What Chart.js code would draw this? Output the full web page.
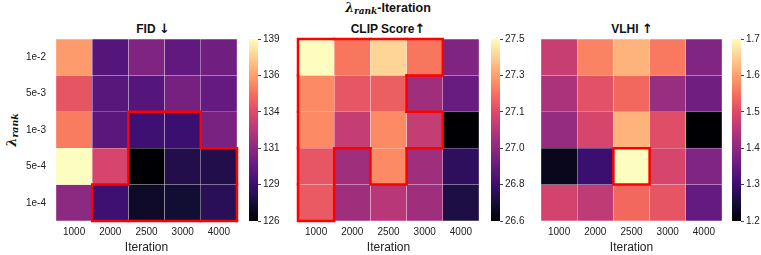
<!DOCTYPE html>
<html>
<head>
    <meta charset="UTF-8">
    <title>lambda rank - Iteration</title>
    <script src="https://cdn.jsdelivr.net/npm/chart.js@4.4.0/dist/chart.umd.min.js"></script>
</head>
<style>
    body { margin: 0; background: #fff; overflow: hidden; width: 761px; height: 255px; position: relative;
           font-family: "Liberation Sans", Arial, sans-serif; color: #111; }
    canvas { position: absolute; top: 0; }
    .lbl { position: absolute; transform: translate(-50%, -50%); white-space: nowrap; font-weight: bold; font-size: 12px; }
    .math { font-family: "DejaVu Serif", serif; font-style: italic; }
    .math sub { font-size: 0.72em; vertical-align: -0.25em; }
    .arr { font-family: "DejaVu Sans", sans-serif; font-weight: bold; font-size: 13px; }
</style>
<body>
    <div class="lbl" style="left:388px; top:8px; font-size:12.5px;"><span class="math">λ<sub>rank</sub></span>-Iteration</div>
    <div class="lbl" style="left:153px; top:28px;">FID <span class="arr">↓</span></div>
    <div class="lbl" style="left:388px; top:28px;">CLIP Score<span class="arr">↑</span></div>
    <div class="lbl" style="left:632px; top:28px;">VLHI <span class="arr">↑</span></div>
    <div class="lbl" style="left:12px; top:130px; transform: translate(-50%,-50%) rotate(-90deg); font-size:13px;"><span class="math">λ<sub>rank</sub></span></div>

    <canvas id="fid" width="245" height="255" style="left:0px"></canvas>
    <canvas id="fidBar" width="36" height="255" style="left:249px"></canvas>
    <canvas id="clip" width="245" height="255" style="left:242px"></canvas>
    <canvas id="clipBar" width="36" height="255" style="left:491px"></canvas>
    <canvas id="vlhi" width="245" height="255" style="left:485px"></canvas>
    <canvas id="vlhiBar" width="36" height="255" style="left:732px"></canvas>

    <script>
        var iterations = ['1000', '2000', '2500', '3000', '4000'];
        var lambdaRanks = ['1e-2', '5e-3', '1e-3', '5e-4', '1e-4'];

        // rows top to bottom follow lambdaRanks, columns follow iterations
        var fidValues = [
            [136.3, 129.4, 130.8, 129.8, 130.3],
            [134.2, 129.5, 129.4, 130.5, 129.9],
            [135.4, 129.6, 128.7, 128.6, 130.6],
            [139.0, 133.5, 126.0, 127.8, 127.8],
            [131.2, 128.7, 126.9, 127.2, 128.0]
        ];
        var clipValues = [
            [27.50, 27.24, 27.42, 27.24, 26.93],
            [27.28, 27.17, 27.19, 27.00, 26.88],
            [27.28, 27.08, 27.28, 27.08, 26.60],
            [27.17, 27.00, 27.28, 27.00, 26.75],
            [27.18, 27.00, 27.05, 27.00, 26.71]
        ];
        var vlhiValues = [
            [1.470, 1.570, 1.620, 1.560, 1.385],
            [1.435, 1.510, 1.540, 1.415, 1.365],
            [1.410, 1.490, 1.620, 1.505, 1.200],
            [1.225, 1.300, 1.700, 1.490, 1.385],
            [1.485, 1.460, 1.540, 1.515, 1.350]
        ];

        // highlighted cells [row, col]
        var fidBest = [[2,2],[2,3],[3,2],[3,3],[3,4],[4,1],[4,2],[4,3],[4,4]];
        var clipBest = [[0,0],[0,1],[0,2],[0,3],[1,0],[1,1],[1,2],[2,0],[2,1],[2,2],[2,3],[3,0],[3,2],[4,0]];
        var vlhiBest = [[3,2]];

        var magma = [
            [0,0,4],[20,14,54],[59,15,112],[100,26,128],[140,41,129],
            [183,55,121],[222,73,104],[247,112,92],[254,159,109],[254,207,146],[252,253,191]
        ];
        function magmaColor(t) {
            t = Math.max(0, Math.min(1, t));
            var p = t * (magma.length - 1);
            var i = Math.min(Math.floor(p), magma.length - 2);
            var f = p - i;
            var a = magma[i], b = magma[i + 1];
            return 'rgb(' + [0,1,2].map(function (k) { return Math.round(a[k] + (b[k] - a[k]) * f); }).join(',') + ')';
        }

        var tickFont = { family: 'Liberation Sans', size: 10 };
        Chart.defaults.color = '#222';

        var outlinePlugin = {
            id: 'outline',
            afterDatasetsDraw: function (chart, args, opts) {
                var cells = opts.cells || [];
                var has = function (r, c) { return cells.some(function (x) { return x[0] === r && x[1] === c; }); };
                var ctx = chart.ctx;
                ctx.save();
                ctx.strokeStyle = '#ff0000';
                ctx.lineWidth = 2.5;
                ctx.lineCap = 'square';
                cells.forEach(function (cell) {
                    var r = cell[0], c = cell[1];
                    var bar = chart.getDatasetMeta(r).data[c];
                    var l = bar.x - bar.width / 2, rt = bar.x + bar.width / 2;
                    var t = Math.min(bar.y, bar.base), b = Math.max(bar.y, bar.base);
                    ctx.beginPath();
                    if (!has(r - 1, c)) { ctx.moveTo(l, t); ctx.lineTo(rt, t); }
                    if (!has(r + 1, c)) { ctx.moveTo(l, b); ctx.lineTo(rt, b); }
                    if (!has(r, c - 1)) { ctx.moveTo(l, t); ctx.lineTo(l, b); }
                    if (!has(r, c + 1)) { ctx.moveTo(rt, t); ctx.lineTo(rt, b); }
                    ctx.stroke();
                });
                ctx.restore();
            }
        };

        function heatmap(id, values, best, showY) {
            var all = [].concat.apply([], values);
            var vmin = Math.min.apply(null, all), vmax = Math.max.apply(null, all);
            new Chart(document.getElementById(id), {
                type: 'bar',
                data: {
                    labels: iterations,
                    datasets: lambdaRanks.map(function (lab, r) {
                        return {
                            label: lab,
                            data: values[r].map(function () { return 1; }),
                            backgroundColor: values[r].map(function (v) { return magmaColor((v - vmin) / (vmax - vmin)); }),
                            borderColor: 'rgba(255,255,255,0.1)',
                            borderWidth: 0.5,
                            borderSkipped: false,
                            categoryPercentage: 1,
                            barPercentage: 1
                        };
                    })
                },
                options: {
                    responsive: false,
                    animation: false,
                    layout: { padding: { top: 39, right: 8, left: 0, bottom: 0 } },
                    plugins: { legend: { display: false }, tooltip: { enabled: false }, outline: { cells: best } },
                    scales: {
                        x: {
                            stacked: true,
                            grid: { display: false, drawTicks: false },
                            border: { display: false },
                            ticks: { font: tickFont, padding: 5, maxRotation: 0 },
                            title: { display: true, text: 'Iteration', font: { family: 'Liberation Sans', size: 12 }, padding: { top: 0, bottom: 0 } },
                            afterFit: function (s) { s.height = 34; }
                        },
                        y: {
                            stacked: true,
                            reverse: true,
                            min: 0,
                            max: 5,
                            grid: { display: false, drawTicks: false },
                            border: { display: false },
                            afterBuildTicks: function (s) {
                                s.ticks = lambdaRanks.map(function (_, i) { return { value: i + 0.5 }; });
                            },
                            ticks: {
                                display: showY,
                                font: tickFont,
                                padding: 10,
                                callback: function (v) { return lambdaRanks[Math.round(v - 0.5)]; }
                            },
                            afterFit: function (s) { s.width = 56; }
                        }
                    }
                },
                plugins: [outlinePlugin]
            });
            return [vmin, vmax];
        }

        function colorbar(id, range, decimals) {
            var vmin = range[0], vmax = range[1];
            new Chart(document.getElementById(id), {
                type: 'bar',
                data: {
                    labels: [''],
                    datasets: [{
                        data: [[vmin, vmax]],
                        categoryPercentage: 1,
                        barPercentage: 1,
                        backgroundColor: function (c) {
                            var area = c.chart.chartArea;
                            if (!area) return '#000';
                            var g = c.chart.ctx.createLinearGradient(0, area.bottom, 0, area.top);
                            for (var i = 0; i <= 20; i++) g.addColorStop(i / 20, magmaColor(i / 20));
                            return g;
                        }
                    }]
                },
                options: {
                    responsive: false,
                    animation: false,
                    layout: { padding: { top: 39, bottom: 34, left: 0, right: 0 } },
                    plugins: { legend: { display: false }, tooltip: { enabled: false } },
                    scales: {
                        x: { display: false },
                        y: {
                            position: 'right',
                            min: vmin,
                            max: vmax,
                            border: { display: false },
                            grid: { drawOnChartArea: false, drawTicks: true, tickLength: 3, color: '#444' },
                            afterBuildTicks: function (s) {
                                var t = [];
                                for (var i = 0; i < 6; i++) t.push({ value: vmin + (vmax - vmin) * i / 5 });
                                s.ticks = t;
                            },
                            ticks: {
                                font: tickFont,
                                padding: 2,
                                callback: function (v) { return v.toFixed(decimals); }
                            },
                            afterFit: function (s) { s.width = 27; }
                        }
                    }
                }
            });
        }

        colorbar('fidBar', heatmap('fid', fidValues, fidBest, true), 0);
        colorbar('clipBar', heatmap('clip', clipValues, clipBest, false), 1);
        colorbar('vlhiBar', heatmap('vlhi', vlhiValues, vlhiBest, false), 1);
    </script>
</body>
</html>
